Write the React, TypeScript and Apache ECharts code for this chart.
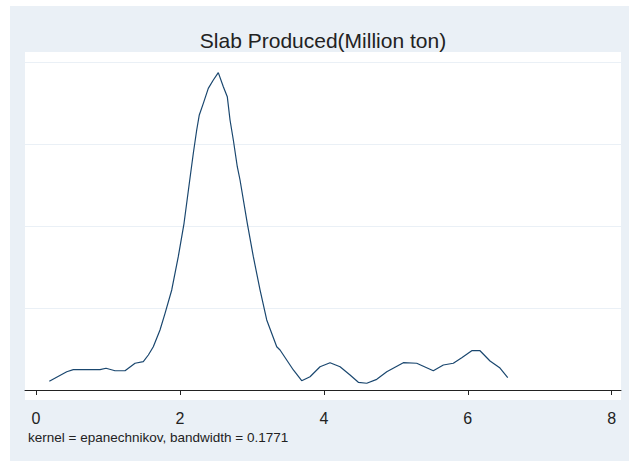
import React, { useEffect, useRef } from "react";
import * as echarts from "echarts";

// Kernel density estimate of slab production (x in million tons, y = density)
const xValues = [
  0.185, 0.427, 0.518, 0.889, 0.973, 1.098, 1.237, 1.376, 1.491, 1.561, 1.63,
  1.723, 1.793, 1.886, 1.977, 2.057, 2.14, 2.186, 2.233, 2.269, 2.325, 2.394,
  2.464, 2.533, 2.603, 2.658, 2.696, 2.742, 2.797, 2.835, 2.936, 3.02, 3.113,
  3.206, 3.345, 3.391, 3.576, 3.692, 3.808, 3.947, 4.086, 4.225, 4.364, 4.479,
  4.596, 4.735, 4.874, 5.104, 5.29, 5.521, 5.66, 5.799, 5.916, 6.055, 6.17,
  6.309, 6.448, 6.555,
];
const densityValues = [
  0.0106, 0.0223, 0.0248, 0.0248, 0.0265, 0.0235, 0.0235, 0.0326, 0.0345,
  0.0427, 0.0528, 0.0732, 0.0935, 0.122, 0.1626, 0.2033, 0.2585, 0.2887,
  0.3171, 0.3354, 0.3496, 0.3679, 0.378, 0.387, 0.3699, 0.3577, 0.3293,
  0.3049, 0.2723, 0.2561, 0.2033, 0.1626, 0.122, 0.0854, 0.0528, 0.0488,
  0.0244, 0.0113, 0.0162, 0.0284, 0.0333, 0.0284, 0.0183, 0.0094, 0.0082,
  0.013, 0.0223, 0.0333, 0.0326, 0.0235, 0.0305, 0.0326, 0.0394, 0.0479,
  0.0479, 0.0354, 0.0268, 0.0152,
];
const xTicks = [0, 2, 4, 6, 8];
// plot region runs a little past the first and last tick
const xRange = [-0.153, 8.129];

const titleText = "Slab Produced(Million ton)";
const noteText = "kernel = epanechnikov, bandwidth = 0.1771";

const FONT = "'Liberation Sans', Arial, sans-serif";
const BG = "#eaf0f6";
const LINE = "#1a476f";
const INK = "#222222";

export default function App() {
  const ref = useRef<HTMLDivElement>(null);

  useEffect(() => {
    if (!ref.current) return;
    const chart = echarts.init(ref.current, undefined, { renderer: "svg" });
    const data = xValues.map((x, i) => [x, densityValues[i]]);

    chart.setOption({
      animation: false,
      backgroundColor: "#ffffff",
      graphic: [
        {
          type: "rect",
          z: -100,
          silent: true,
          shape: { x: 10, y: 6, width: 619, height: 455 },
          style: { fill: BG },
        },
        {
          type: "rect",
          z: -90,
          silent: true,
          shape: { x: 25, y: 52, width: 596, height: 348 },
          style: { fill: "#ffffff" },
        },
        {
          type: "text",
          x: 323,
          y: 40,
          style: {
            text: titleText,
            font: `21px ${FONT}`,
            fill: INK,
            textAlign: "center",
            textVerticalAlign: "middle",
          },
        },
        {
          type: "text",
          x: 28,
          y: 437,
          style: {
            text: noteText,
            font: `13.5px ${FONT}`,
            fill: INK,
            textAlign: "left",
            textVerticalAlign: "middle",
          },
        },
      ],
      grid: {
        left: 25,
        right: 8,
        top: 62,
        bottom: 71,
        containLabel: false,
      },
      xAxis: {
        type: "value",
        min: xRange[0],
        max: xRange[1],
        offset: 10,
        axisLine: { show: true, lineStyle: { color: INK, width: 1 } },
        axisTick: {
          show: true,
          length: 5,
          customValues: xTicks,
          lineStyle: { color: INK, width: 1 },
        },
        axisLabel: {
          show: true,
          margin: 10,
          fontSize: 16,
          fontFamily: FONT,
          color: INK,
          customValues: xTicks,
        },
        splitLine: { show: false },
      },
      yAxis: {
        type: "value",
        min: 0,
        max: 0.4,
        interval: 0.1,
        axisLine: { show: false },
        axisTick: { show: false },
        axisLabel: { show: false },
        splitLine: { show: true, lineStyle: { color: BG, width: 1 } },
      },
      series: [
        {
          type: "line",
          data,
          showSymbol: false,
          smooth: false,
          lineStyle: { color: LINE, width: 1.2 },
          silent: true,
        },
      ],
    });

    return () => chart.dispose();
  }, []);

  return (
    <div
      ref={ref}
      style={{ position: "absolute", left: 0, top: 0, width: 629, height: 461 }}
    />
  );
}
